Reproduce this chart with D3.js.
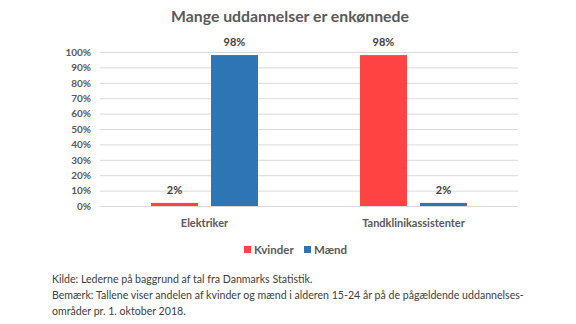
<!DOCTYPE html>
<html>
<head>
<meta charset="utf-8">
<script src="https://cdn.jsdelivr.net/npm/d3@7"></script>
<style>
  body { margin:0; background:#fff; }
  svg text { font-family: Lato, "Open Sans", sans-serif; }
</style>
</head>
<body>
<svg id="chart" width="576" height="324"></svg>
<script>
var categories = ["Elektriker", "Tandklinikassistenter"];
var seriesNames = ["Kvinder", "Mænd"];
var kvinder = [2, 98];
var maend = [98, 2];
var yTicks = [0, 10, 20, 30, 40, 50, 60, 70, 80, 90, 100];
var notes = [
  "Kilde: Lederne på baggrund af tal fra Danmarks Statistik.",
  "Bemærk: Tallene viser andelen af kvinder og mænd i alderen 15-24 år på de pågældende uddannelses-",
  "områder pr. 1. oktober 2018."
];

var colors = {"Kvinder": "#ff4343", "Mænd": "#2e75b6"};
var textCol = "#595959";

var svg = d3.select("#chart");
var m = {left:100, right:58, top:52, bottom:118};
var W = 576, H = 324;

var x0 = d3.scaleBand().domain(categories).range([m.left, W - m.right]).paddingInner(0).paddingOuter(0);
var x1 = d3.scaleBand().domain(seriesNames).range([0, x0.bandwidth()]).paddingInner(0.217).paddingOuter(0.85);
var y = d3.scaleLinear().domain([0, 100]).range([H - m.bottom, m.top]);

// title
svg.append("text")
  .attr("x", 290).attr("y", 22)
  .attr("text-anchor", "middle")
  .attr("font-size", 15.8).attr("font-weight", 700)
  .attr("fill", textCol)
  .text("Mange uddannelser er enkønnede");

// gridlines
svg.append("g").selectAll("line").data(yTicks).join("line")
  .attr("x1", m.left).attr("x2", W - m.right)
  .attr("y1", d => y(d) + 0.5).attr("y2", d => y(d) + 0.5)
  .attr("stroke", "#d9d9d9").attr("stroke-width", 1);

// y axis labels
var yAxis = d3.axisLeft(y).tickValues(yTicks).tickFormat(d => d + "%").tickSize(0).tickPadding(9);
var ya = svg.append("g").attr("transform", "translate(" + m.left + ",0)").call(yAxis);
ya.select(".domain").remove();
ya.selectAll("text").attr("font-size", 10).attr("font-weight", 700).attr("fill", textCol)
  .style("font-family", "Lato, sans-serif");

var rows = categories.map((c, i) => ({cat: c, vals: [
  {s: "Kvinder", v: kvinder[i]}, {s: "Mænd", v: maend[i]}
]}));

var groups = svg.append("g").selectAll("g").data(rows).join("g")
  .attr("transform", d => "translate(" + x0(d.cat) + ",0)");

groups.selectAll("rect").data(d => d.vals).join("rect")
  .attr("x", d => x1(d.s))
  .attr("width", x1.bandwidth())
  .attr("y", d => y(d.v))
  .attr("height", d => y(0) - y(d.v))
  .attr("fill", d => colors[d.s]);

groups.selectAll("text.val").data(d => d.vals).join("text")
  .attr("class", "val")
  .attr("x", d => x1(d.s) + x1.bandwidth() / 2)
  .attr("y", d => y(d.v) - 9)
  .attr("text-anchor", "middle")
  .attr("font-size", 11).attr("font-weight", 700).attr("fill", "#404040")
  .text(d => d.v + "%");

// category labels
var xAxis = d3.axisBottom(x0).tickSize(0).tickPadding(13);
var xa = svg.append("g").attr("transform", "translate(0," + y(0) + ")").call(xAxis);
xa.select(".domain").remove();
xa.selectAll("text").attr("font-size", 11).attr("font-weight", 700).attr("fill", textCol)
  .style("font-family", "Lato, sans-serif");

// legend
var leg = svg.append("g").attr("transform", "translate(244,246)");
var legX = [0, 60];
seriesNames.forEach(function(s, i) {
  var g = leg.append("g").attr("transform", "translate(" + legX[i] + ",0)");
  g.append("rect").attr("width", 7).attr("height", 7).attr("y", 0).attr("fill", colors[s]);
  g.append("text").attr("x", 10).attr("y", 7.5)
    .attr("font-size", 11.5).attr("font-weight", 700).attr("fill", textCol).text(s);
});

// notes
svg.append("g").selectAll("text").data(notes).join("text")
  .attr("x", 52).attr("y", (d, i) => 283 + i * 16)
  .attr("font-size", 10.6).attr("fill", "#404040")
  .text(d => d);
</script>
</body>
</html>
